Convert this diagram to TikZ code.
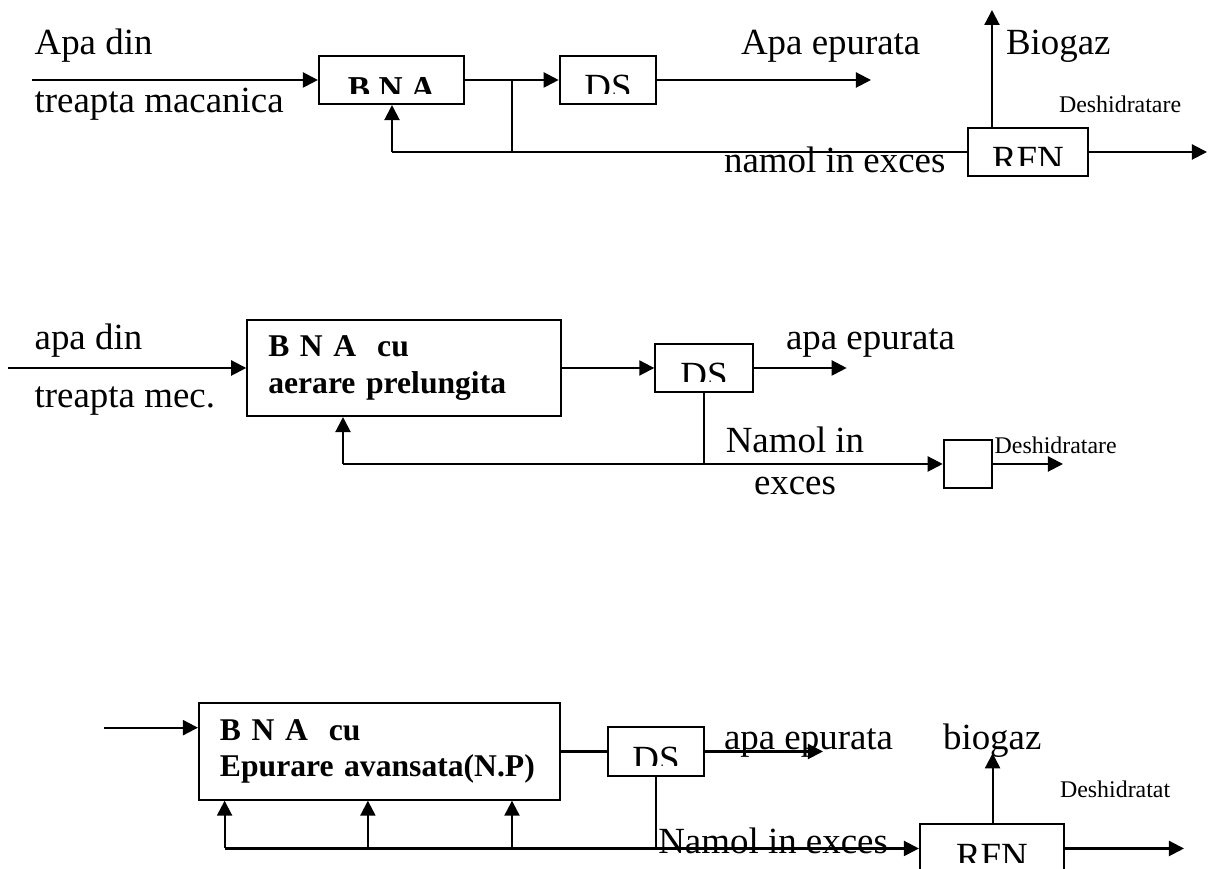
\documentclass[tikz,border=0pt]{standalone}
\usepackage{fontspec}
\setmainfont{Liberation Serif}
\usetikzlibrary{arrows.meta}
\newcommand{\bnafont}{\bfseries\fontsize{9}{10.3}\selectfont}

\begin{document}
\begin{tikzpicture}[
    every node/.style={font=\fontsize{10.5}{12}\selectfont},
    line width=0.6pt,
    unit/.style={rectangle, draw, inner sep=0pt},
    txt/.style={anchor=base west, inner sep=0pt},
    small/.style={txt, font=\fontsize{6.8}{8}\selectfont},
    arrow/.style={-{Triangle[length=0.15cm, width=0.15cm]}},
    cuttext/.style={path picture={
        \clip ([yshift=0.1cm]path picture bounding box.south west) rectangle (path picture bounding box.north east);
        \node[anchor=base] at ([yshift=-0.2cm]path picture bounding box.center) {#1};}}
]
    \useasboundingbox (0,0) rectangle (12.08,8.69);

    % First scheme
    \node[unit, minimum width=1.45cm, minimum height=0.48cm, cuttext={\bfseries\fontsize{9.5}{11}\selectfont B N A}] (bna1) at (3.915,7.89) {};
    \node[unit, minimum width=0.965cm, minimum height=0.48cm, cuttext=DS] (ds1) at (6.08,7.89) {};
    \node[unit, minimum width=1.2cm, minimum height=0.48cm, cuttext=RFN] (rfn1) at (10.28,7.17) {};

    \coordinate (in1) at (0.32,7.89);
    \coordinate (out1) at (8.71,7.89);
    \coordinate (split1) at (5.12,7.89);
    \coordinate (down1) at (5.12,7.17);
    \coordinate (back1) at (3.92,7.17);
    \coordinate (gas1) at (9.92,8.59);
    \coordinate (dry1) at (12.07,7.17);

    \draw[arrow] (in1) -- (bna1);
    \draw[arrow] (bna1) -- (ds1);
    \draw[arrow] (ds1) -- (out1);
    \draw (split1) -- (down1);
    \draw[arrow] (back1) -- (back1 |- bna1.south);
    \draw (back1) -- (rfn1);
    \draw[arrow] (gas1 |- rfn1.north) -- (gas1);
    \draw[arrow] (rfn1) -- (dry1);

    \node[txt] (apa1) at (0.336,8.14) {Apa din};
    \node[txt] (trp1) at (0.336,7.56) {treapta macanica};
    \node[txt] (epu1) at (7.40,8.14) {Apa epurata};
    \node[txt] (bio1) at (10.05,8.14) {Biogaz};
    \node[small] (des1) at (10.58,7.56) {Deshidratare};
    \node[txt] (nam1) at (7.23,6.965) {namol in exces};

    % Second scheme
    \node[unit, minimum height=0.96cm, text width=2.714cm, inner xsep=0.21cm, align=left, font=\bnafont] (bna2) at (4.04,5.01) {B N A\ \ cu\\aerare prelungita};
    \node[unit, minimum width=0.973cm, minimum height=0.48cm, cuttext=DS] (ds2) at (7.04,5.01) {};
    \node[unit, minimum width=0.484cm, minimum height=0.48cm] (dw2) at (9.68,4.05) {};

    \coordinate (in2) at (0.08,5.01);
    \coordinate (out2) at (8.467,5.01);
    \coordinate (back2) at (3.43,4.05);
    \coordinate (dry2) at (10.63,4.05);

    \draw[arrow] (in2) -- (bna2);
    \draw[arrow] (bna2) -- (ds2);
    \draw[arrow] (ds2) -- (out2);
    \draw (ds2) -- (ds2 |- dw2);
    \draw[arrow] (back2) -- (back2 |- bna2.south);
    \draw[arrow] (back2) -- (dw2);
    \draw[arrow] (dw2) -- (dry2);

    \node[txt] (apa2) at (0.336,5.19) {apa din};
    \node[txt] (trp2) at (0.336,4.61) {treapta mec.};
    \node[txt] (epu2) at (7.85,5.19) {apa epurata};
    \node[anchor=base, inner sep=0pt, align=center] (nam2) at (7.95,3.74) {Namol in\\exces};
    \node[small] (des2) at (9.936,4.157) {Deshidratare};

    % Third scheme
    \node[unit, minimum height=0.963cm, text width=3.19cm, inner xsep=0.21cm, align=left, font=\bnafont] (bna3) at (3.795,1.175) {B N A\ \ cu\\Epurare avansata(N.P)};
    \node[unit, minimum width=0.963cm, minimum height=0.483cm, cuttext=DS] (ds3) at (6.56,1.175) {};
    \node[unit, minimum width=1.44cm, minimum height=0.49cm, cuttext=RFN] (rfn3) at (9.92,0.205) {};

    \coordinate (in3) at (1.04,1.413);
    \coordinate (out3) at (8.23,1.175);
    \coordinate (fb3a) at (2.246,0.205);
    \coordinate (fb3b) at (3.679,0.205);
    \coordinate (fb3c) at (5.12,0.205);
    \coordinate (gas3) at (9.926,1.157);
    \coordinate (dry3) at (11.84,0.205);

    \draw[arrow] (in3) -- (in3 -| bna3.west);
    \draw (bna3) -- (ds3);
    \draw[arrow] (ds3) -- (out3);
    \draw (ds3) -- (ds3 |- rfn3);
    \draw[arrow] (fb3a) -- (rfn3);
    \draw[arrow] (fb3a) -- (fb3a |- bna3.south);
    \draw[arrow] (fb3b) -- (fb3b |- bna3.south);
    \draw[arrow] (fb3c) -- (fb3c |- bna3.south);
    \draw[arrow] (rfn3.north -| gas3) -- (gas3);
    \draw[arrow] (rfn3) -- (dry3);

    \node[txt] (epu3) at (7.23,1.19) {apa epurata};
    \node[txt] (bio3) at (9.42,1.19) {biogaz};
    \node[small] (des3) at (10.59,0.717) {Deshidratat};
    \node[txt] (nam3) at (6.573,0.157) {Namol in exces};
\end{tikzpicture}
\end{document}
